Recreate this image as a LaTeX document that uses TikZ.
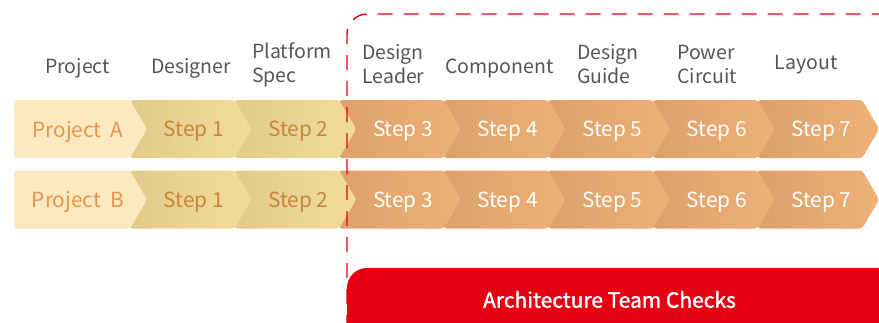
\documentclass[tikz,border=0pt]{standalone}
\usepackage{fontspec}
\setmainfont{Noto Sans CJK SC}
\newfontfamily\boxfont{Noto Sans CJK SC}[FakeBold=1.6]
\definecolor{projfill}{HTML}{FDE8BF}
\definecolor{projtext}{HTML}{E8954A}
\definecolor{ylwL}{HTML}{E2CB8A}
\definecolor{ylwR}{HTML}{F2DC9C}
\definecolor{ylwtext}{HTML}{C8853A}
\definecolor{orgL}{HTML}{DCA16B}
\definecolor{orgR}{HTML}{EEB176}
\definecolor{redc}{HTML}{E60012}
\definecolor{headc}{HTML}{555555}
\tikzset{
  hdr/.style={font=\fontsize{19.5}{24}\selectfont, text=headc, inner sep=0pt},
  hdrml/.style={hdr, align=left, anchor=west},
  steptext/.style={font=\fontsize{20.8}{24}\selectfont, inner sep=0pt},
  chev/.style={rounded corners=3pt},
}
\begin{document}
\begin{tikzpicture}[x=1pt,y=-1pt]
\useasboundingbox (0,0) rectangle (879,322);
\clip (0,0) rectangle (879,322);

% headers
\node[hdr] (hProject) at (77.5,68) {Project};
\node[hdr] (hDesigner) at (191,68) {Designer};
\node[hdrml] (hPlatform) at (252,64.5) {Platform\\Spec};
\node[hdrml] (hLeader) at (362,64.5) {Design\\Leader};
\node[hdr] (hComponent) at (499.5,68) {Component};
\node[hdrml] (hGuide) at (577,64.5) {Design\\Guide};
\node[hdrml] (hPower) at (677,64.5) {Power\\Circuit};
\node[hdr] (hLayout) at (806,65) {Layout};

% rows
\foreach \row/\top/\lab in {A/100/{Project\ \ A}, B/170.5/{Project\ \ B}} {
  \foreach \k in {7,6,5,4,3,2,1} {
    \pgfmathsetmacro\xl{130+104.6*(\k-1)}
    \pgfmathsetmacro\xr{130+104.6*\k}
    \pgfmathsetmacro\xc{(\xl+\xr+17)/2+3}
    \ifnum\k<3
      \path[chev, left color=ylwL, right color=ylwR]
        (\xl,\top) -- (\xr,\top) -- (\xr+17,\top+29) -- (\xr,\top+58) -- (\xl,\top+58) -- cycle;
      \node[steptext, text=ylwtext] (s\row\k) at (\xc,\top+31.5) {Step \k};
    \else
      \path[chev, left color=orgL, right color=orgR]
        (\xl,\top) -- (\xr,\top) -- (\xr+17,\top+29) -- (\xr,\top+58) -- (\xl,\top+58) -- cycle;
      \node[steptext, text=white] (s\row\k) at (\xc,\top+31.5) {Step \k};
    \fi
  }
  \path[chev, fill=projfill]
    (14,\top) -- (130,\top) -- (147,\top+29) -- (130,\top+58) -- (14,\top+58) -- cycle;
  \node[steptext, text=projtext] (p\row) at (78,\top+31.5) {\lab};
}

% dashed region
\coordinate (dashBot) at (347,330);
\coordinate (dashCorner) at (347,14);
\coordinate (dashRight) at (900,14);
\draw[redc, line width=1.4pt, dash pattern=on 15pt off 11pt, rounded corners=20pt]
  (dashBot) -- (dashCorner) -- (dashRight);

% architecture box
\path[fill=redc, rounded corners=20pt] (347,268) rectangle (920,360);
\node[font=\boxfont\fontsize{21}{24}\selectfont, text=white, inner sep=0pt] (arch) at (609.5,299.5) {Architecture Team Checks};
\end{tikzpicture}
\end{document}
